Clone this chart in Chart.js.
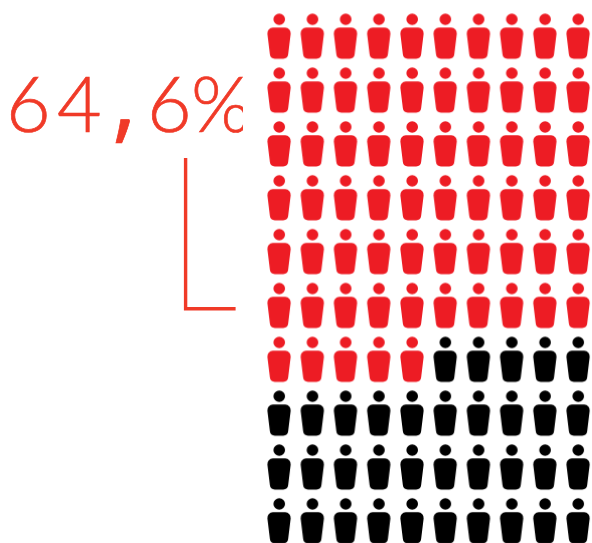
<!DOCTYPE html>
<html>
<head>
<meta charset="utf-8">
<title>64,6%</title>
<style>
  html, body { margin: 0; padding: 0; background: #fff; }
  canvas { display: block; }
</style>
<script src="https://cdn.jsdelivr.net/npm/chart.js@4"></script>
</head>
<body>
<canvas id="people" width="592" height="543"></canvas>
<script>
const columns = [1, 2, 3, 4, 5, 6, 7, 8, 9, 10];
const rows = [1, 2, 3, 4, 5, 6, 7, 8, 9, 10];
const shareLabel = '64,6%';
const peopleHighlighted = 65;

const RED = '#ed1c24';
const BLACK = '#000000';
const ACCENT = '#f03a28';

// small person glyph used as the point style
function personIcon(color) {
    const c = document.createElement('canvas');
    c.width = 26;
    c.height = 48;
    const ctx = c.getContext('2d');
    ctx.fillStyle = color;
    ctx.beginPath();
    ctx.arc(13.2, 7, 5.8, 0, Math.PI * 2);
    ctx.fill();
    ctx.beginPath();
    ctx.moveTo(13, 15.3);
    ctx.arcTo(25.4, 15.3, 21.6, 46.4, 5.5);
    ctx.arcTo(21.6, 46.4, 4.4, 46.4, 5);
    ctx.arcTo(4.4, 46.4, 0.6, 15.3, 5);
    ctx.arcTo(0.6, 15.3, 13, 15.3, 5.5);
    ctx.closePath();
    ctx.fill();
    return c;
}

// seats are filled row by row, left to right
const seats = rows.flatMap(y => columns.map(x => ({x, y})));

const calloutPlugin = {
    id: 'callout',
    afterDraw(chart) {
        const ctx = chart.ctx;
        // the figure is set glyph by glyph because of its wide tracking
        const inkLeft = [11, 58, 115, 152, 194];
        ctx.save();
        ctx.beginPath();
        ctx.rect(0, 0, 243, 543);
        ctx.clip();
        ctx.fillStyle = ACCENT;
        ctx.strokeStyle = ACCENT;
        ctx.lineWidth = 0.7;
        ctx.textBaseline = 'alphabetic';
        Array.from(shareLabel).forEach((glyph, i) => {
            // the comma is a plain slanted bar, so it comes from another face
            const isComma = glyph === ',';
            ctx.font = isComma ? '400 96px "Open Sans"' : '300 77px Lato';
            const box = ctx.measureText(glyph);
            const x = inkLeft[i] + box.actualBoundingBoxLeft;
            const y = isComma ? 119 + box.actualBoundingBoxAscent : 132;
            ctx.fillText(glyph, x, y);
            ctx.strokeText(glyph, x, y);
        });
        ctx.restore();

        ctx.save();
        ctx.strokeStyle = ACCENT;
        ctx.lineWidth = 3.4;
        ctx.beginPath();
        ctx.moveTo(185.6, 158);
        ctx.lineTo(185.6, 308.8);
        ctx.lineTo(235.6, 308.8);
        ctx.stroke();
        ctx.restore();
    }
};

new Chart(document.getElementById('people'), {
    type: 'scatter',
    data: {
        datasets: [
            {
                data: seats.slice(0, peopleHighlighted),
                pointStyle: personIcon(RED),
            },
            {
                data: seats.slice(peopleHighlighted),
                pointStyle: personIcon(BLACK),
            },
        ],
    },
    options: {
        responsive: false,
        animation: false,
        events: [],
        layout: {padding: 0, autoPadding: false},
        plugins: {
            legend: {display: false},
            tooltip: {enabled: false},
        },
        scales: {
            x: {display: false, min: -7.4, max: 10.42},
            y: {display: false, reverse: true, min: 0.326, max: 10.41},
        },
    },
    plugins: [calloutPlugin],
});
</script>
</body>
</html>
